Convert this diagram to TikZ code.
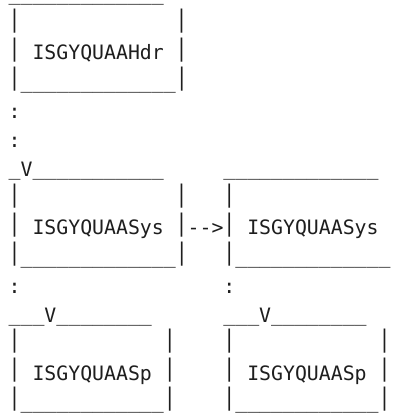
\documentclass[tikz,border=0pt]{standalone}
\usepackage{fontspec}
\newfontfamily\asciifont{DejaVu Sans Mono}[Ligatures=NoCommon]
\definecolor{ink}{HTML}{1E1E1E}
% one character cell = 11.93pt wide, one text row = 29.14pt high
\newcommand\seg[4]{\node[asc] (#1) at ({8.7+11.93*#2},{60+29.14*(#3-3)}) {#4};}
% a slightly taller bar, so the box sides nearly join from row to row
\newcommand\vb{\raisebox{3.7pt}{\scalebox{1}[1.22]{\textbar}}}
% a run of underscores, lifted a little
\newcommand\uu[1]{\raisebox{0.9pt}{\foreach \i in {1,...,#1}{\_}}}
\begin{document}
\begin{tikzpicture}[x=1pt,y=-1pt,
  asc/.style={anchor=base west,inner sep=0pt,outer sep=0pt,
    font=\asciifont\fontsize{19.82}{24}\selectfont,text=ink}]
\useasboundingbox[fill=white] (0,0) rectangle (395,417);
% header box
\seg{h1}{0}{1}{\smash{\uu{13}}}
\seg{h2l}{0}{2}{\vb}
\seg{h2r}{14}{2}{\vb}
\seg{h3l}{0}{3}{\vb}
\seg{hdr}{2}{3}{ISGYQUAAHdr}
\seg{h3r}{14}{3}{\vb}
\seg{h4}{0}{4}{\vb\uu{13}\vb}
\seg{c5}{0}{5}{:}
\seg{c6}{0}{6}{:}
% the two system boxes
\seg{s7a}{0}{7}{\uu{1}V\uu{11}}
\seg{s7b}{18}{7}{\uu{13}}
\seg{s8a}{0}{8}{\vb}
\seg{s8b}{14}{8}{\vb}
\seg{s8c}{18}{8}{\vb}
\seg{s9a}{0}{9}{\vb}
\seg{sysA}{2}{9}{ISGYQUAASys}
\seg{arr}{14}{9}{\vb-{}-{}>\vb}
\seg{sysB}{20}{9}{ISGYQUAASys}
\seg{s10a}{0}{10}{\vb\uu{13}\vb}
\seg{s10b}{18}{10}{\vb\uu{13}}
\seg{c11a}{0}{11}{:}
\seg{c11b}{18}{11}{:}
% the two sp boxes
\seg{p12a}{0}{12}{\uu{3}V\uu{8}}
\seg{p12b}{18}{12}{\uu{3}V\uu{8}}
\seg{p13a}{0}{13}{\vb}
\seg{p13b}{13}{13}{\vb}
\seg{p13c}{18}{13}{\vb}
\seg{p13d}{31}{13}{\vb}
\seg{p14a}{0}{14}{\vb}
\seg{spA}{2}{14}{ISGYQUAASp}
\seg{p14b}{13}{14}{\vb}
\seg{p14c}{18}{14}{\vb}
\seg{spB}{20}{14}{ISGYQUAASp}
\seg{p14d}{31}{14}{\vb}
\seg{p15a}{0}{15}{\vb\uu{12}\vb}
\seg{p15b}{18}{15}{\vb\uu{12}\vb}
\end{tikzpicture}
\end{document}
